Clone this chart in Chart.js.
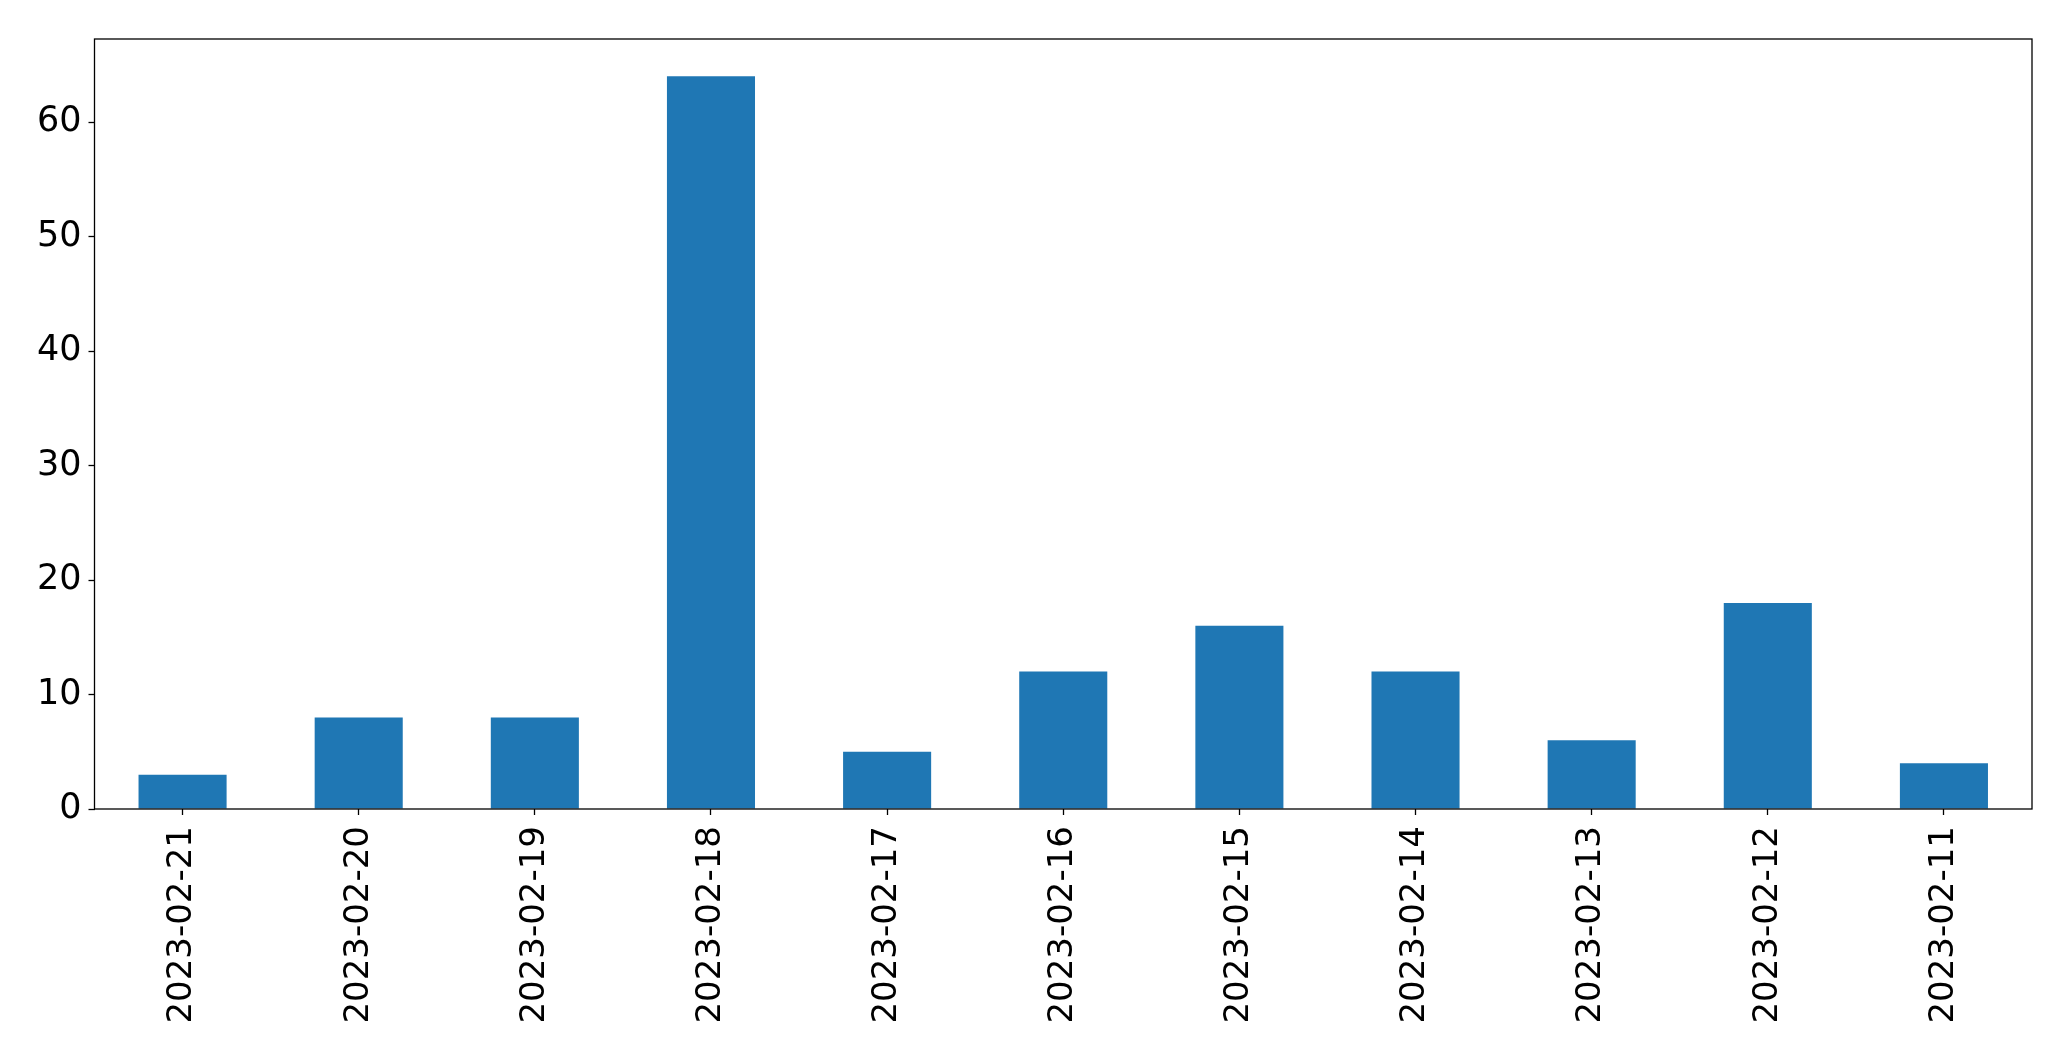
<!DOCTYPE html>
<html>
<head>
<meta charset="utf-8">
<script src="https://cdn.jsdelivr.net/npm/chart.js@4"></script>
<style>
  html, body { margin: 0; padding: 0; background: #fff; }
  #wrap { width: 2071px; height: 1061px; }
</style>
</head>
<body>
<div id="wrap"><canvas id="barChart" width="2071" height="1061"></canvas></div>
<script>
// data
var dates = ['2023-02-21', '2023-02-20', '2023-02-19', '2023-02-18', '2023-02-17', '2023-02-16',
             '2023-02-15', '2023-02-14', '2023-02-13', '2023-02-12', '2023-02-11'];
var counts = [3, 8, 8, 64, 5, 12, 16, 12, 6, 18, 4];
var yTicks = [0, 10, 20, 30, 40, 50, 60];

// matplotlib-style frame around the plot area
var frame = {
    id: 'frame',
    afterDraw: function (chart) {
        var a = chart.chartArea, c = chart.ctx;
        c.save();
        c.strokeStyle = '#000';
        c.lineWidth = 1.3;
        c.strokeRect(a.left, a.top, a.right - a.left, a.bottom - a.top);
        c.restore();
    }
};

var ctx = document.getElementById('barChart').getContext('2d');
var barChart = new Chart(ctx, {
    type: 'bar',
    data: {
        labels: dates,
        datasets: [{
            data: counts,
            backgroundColor: '#1f77b4',
            borderWidth: 0,
            barPercentage: 0.5,
            categoryPercentage: 1.0
        }]
    },
    options: {
        responsive: false,
        animation: false,
        layout: { padding: { top: 39, right: 39, left: 0, bottom: 0 } },
        plugins: { legend: { display: false }, tooltip: { enabled: false } },
        scales: {
            x: {
                grid: { offset: false, drawOnChartArea: false, tickLength: 6, tickColor: '#000', tickWidth: 1.3 },
                border: { display: false },
                ticks: {
                    color: '#000',
                    font: { family: 'DejaVu Sans', size: 34 },
                    minRotation: 90,
                    maxRotation: 90,
                    padding: 11,
                    autoSkip: false
                },
                afterFit: function (s) { s.height = 252; }
            },
            y: {
                min: 0,
                max: 67.25,
                grid: { drawOnChartArea: false, tickLength: 6, tickColor: '#000', tickWidth: 1.3 },
                border: { display: false },
                afterBuildTicks: function (s) {
                    s.ticks = yTicks.map(function (v) { return { value: v }; });
                },
                ticks: {
                    color: '#000',
                    font: { family: 'DejaVu Sans', size: 35 },
                    padding: 7
                },
                afterFit: function (s) { s.width = 94.5; }
            }
        }
    },
    plugins: [frame]
});
</script>
</body>
</html>
